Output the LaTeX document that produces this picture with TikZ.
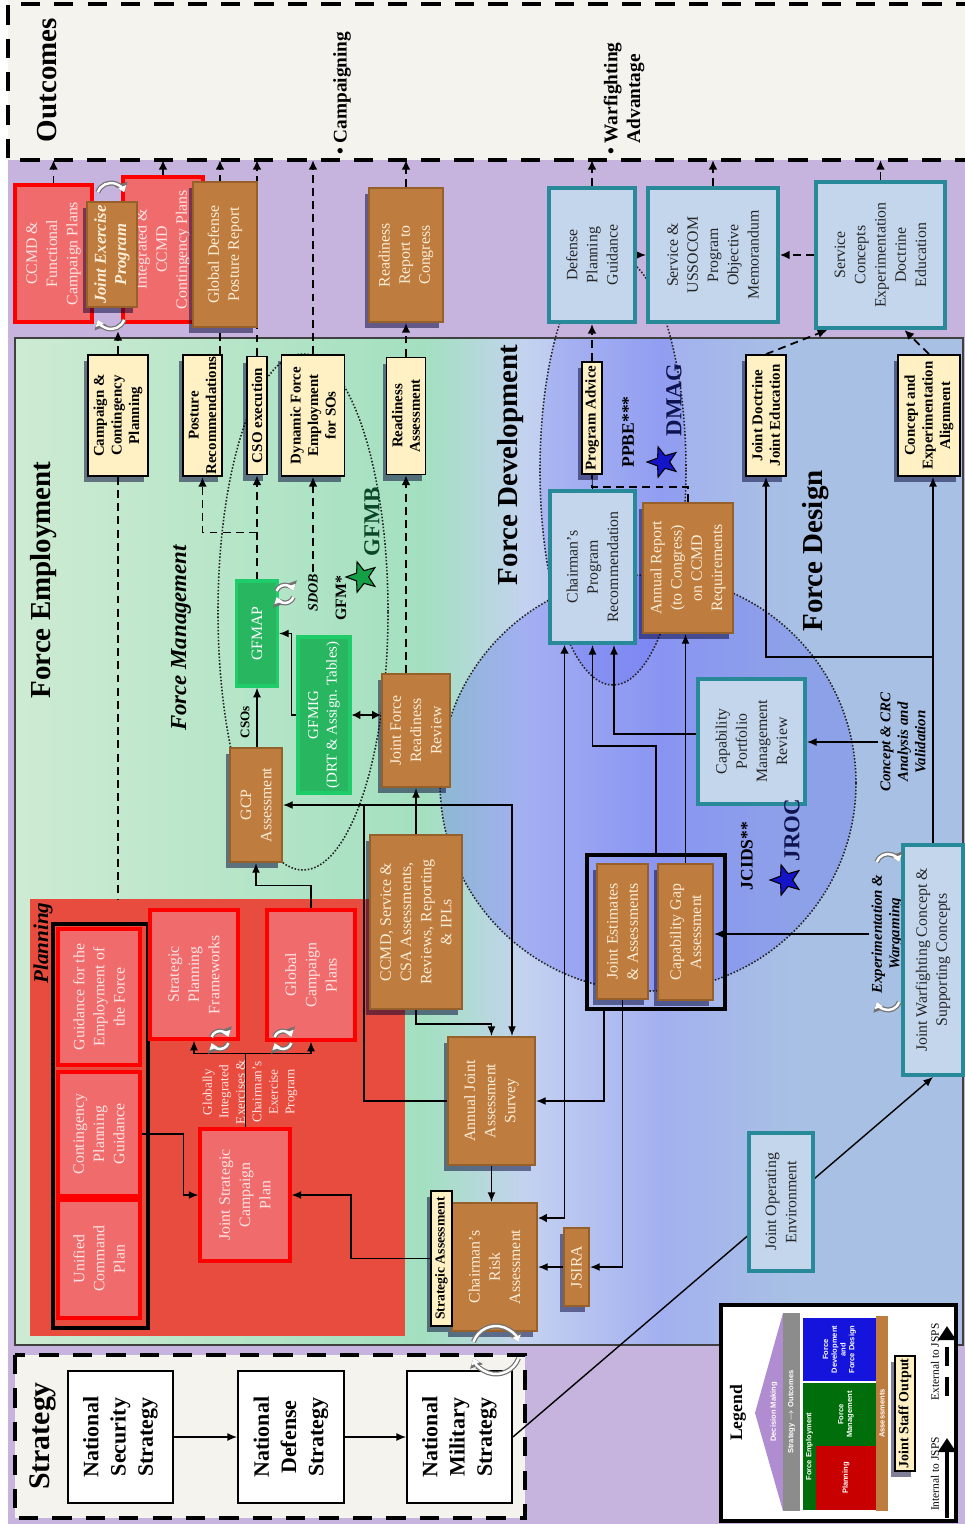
\documentclass[tikz,border=0pt]{standalone}
\usepackage{fontspec}
\setmainfont{Liberation Serif}
\setsansfont{Liberation Sans}
\usetikzlibrary{calc,arrows.meta,shapes.geometric,shadows}

\definecolor{bgpurple}{RGB}{198,180,222}
\definecolor{outbeige}{RGB}{244,243,237}
\definecolor{fegreenA}{RGB}{205,235,210}
\definecolor{fegreenB}{RGB}{163,224,192}
\definecolor{fdlight}{RGB}{196,210,240}
\definecolor{fdperi}{RGB}{163,176,240}
\definecolor{fdsteel}{RGB}{168,192,228}
\definecolor{plred}{RGB}{232,76,62}
\definecolor{plbox}{RGB}{240,108,108}
\definecolor{plboxtxt}{RGB}{255,228,228}
\definecolor{asbrown}{RGB}{190,124,62}
\definecolor{asbrowndk}{RGB}{150,96,42}
\definecolor{ascream}{RGB}{252,238,215}
\definecolor{fdbox}{RGB}{196,214,236}
\definecolor{fdteal}{RGB}{40,138,152}
\definecolor{jsyellow}{RGB}{255,241,196}
\definecolor{fmgreen}{RGB}{40,182,96}
\definecolor{fmgreenlt}{RGB}{30,205,105}
\definecolor{starblue}{RGB}{20,20,200}
\definecolor{stargreen}{RGB}{20,160,70}
\definecolor{navytxt}{RGB}{15,20,80}
\definecolor{gfmbtxt}{RGB}{10,70,40}
\definecolor{legroof}{RGB}{176,140,208}
\definecolor{legfe}{RGB}{0,110,10}
\definecolor{legpl}{RGB}{200,0,0}
\definecolor{legfd}{RGB}{20,20,220}

\pgfdeclarelayer{back}
\pgfdeclarelayer{mid}
\pgfsetlayers{back,mid,main}

\tikzset{
  lbl/.style={rotate=90, align=center, inner sep=1pt},
  wh/.style 2 args={minimum height=#1*0.2mm, minimum width=#2*0.2mm},
  boxfont/.style={font=\fontsize{9}{11.5}\selectfont},
  shd/.style={drop shadow={shadow xshift=-2pt, shadow yshift=-3.5pt, opacity=0.5, fill=black!80!blue}},
  redbox/.style={lbl, boxfont, fill=plbox, draw=red, line width=1.8pt, text=plboxtxt},
  brownbox/.style={lbl, boxfont, fill=asbrown, draw=asbrowndk, line width=1.2pt, text=ascream, shd},
  bluebox/.style={lbl, boxfont, fill=fdbox, draw=fdteal, line width=2.2pt, text=black!85},
  yelbox/.style={lbl, font=\fontsize{8.5}{10}\selectfont\bfseries, fill=jsyellow, draw=black, line width=1pt, shd},
  grnbox/.style={lbl, boxfont, fill=fmgreen, draw=fmgreenlt, line width=1.8pt, text=white},
  stratbox/.style={lbl, font=\fontsize{12.5}{15.5}\selectfont\bfseries, fill=white, draw=black, line width=1pt},
  head/.style={lbl, font=\fontsize{16.5}{19}\selectfont\bfseries},
  tag/.style={lbl, font=\fontsize{10}{12}\selectfont\bfseries},
  note/.style={lbl, font=\fontsize{8.5}{10}\selectfont\bfseries\itshape},
  legtxt/.style={lbl, text=white, font=\fontsize{4.3}{5}\selectfont\sffamily\bfseries},
  starnode/.style={star, star points=5, star point ratio=2.4, rotate=90, draw=black, line width=0.6pt, inner sep=0pt, minimum size=32*0.2mm},
  arr/.style={line width=0.8pt, -{Latex[length=5.5pt,width=4.5pt]}},
  dline/.style={line width=1pt, dash pattern=on 4.5pt off 3pt},
  darr/.style={dline, -{Latex[length=5.5pt,width=5pt]}},
  dbl/.style={line width=0.8pt, {Latex[length=5pt,width=5pt]}-{Latex[length=5pt,width=5pt]}},
  dots/.style={line width=0.9pt, dash pattern=on 0.9pt off 1pt, black!85},
  bigdash/.style={line width=2.3pt, dash pattern=on 11pt off 8pt},
  cycout/.style={line width=2.8pt, draw=black!55, -{Triangle[length=5pt,width=7.5pt]}},
  cycin/.style={line width=1.4pt, draw=white, -{Triangle[length=3.4pt,width=4.8pt]}},
}

\def\cycarc(#1,#2)(#3:#4:#5){%
  \draw[cycout] ($(#1,#2)+({#5*cos(#3)},{#5*sin(#3)})$) arc (#3:#4:#5);
  \draw[cycin] ($(#1,#2)+({#5*cos(#3)},{#5*sin(#3)})$) arc (#3:#4:#5);}

\begin{document}
\begin{tikzpicture}[x=0.2mm,y=-0.2mm]
%%%%% START %%%%%
\useasboundingbox (0,0) rectangle (965,1524);

\begin{pgfonlayer}{back}
  \fill[white] (0,0) rectangle (965,1524);
  \fill[bgpurple] (8,0) rectangle (965,1524);
  \fill[outbeige] (8,0) rectangle (965,160);

  \shade[left color=fegreenA, right color=fegreenB] (15,338) rectangle (426,1345);
  \shade[left color=fegreenB, right color=fdlight] (425,338) rectangle (526,1345);
  \shade[left color=fdlight, right color=fdperi] (525,338) rectangle (661,1345);
  \shade[left color=fdperi, right color=fdsteel] (660,338) rectangle (791,1345);
  \fill[fdsteel] (790,338) rectangle (963,1345);
  \begin{scope}
    \clip (15,338) rectangle (963,1345);
    \fill[blue!70!fdperi, opacity=0.22] (648,783) circle (208);
    \fill[blue!70!fdperi, opacity=0.15] (613,470) ellipse (73 and 215);
  \end{scope}
  \draw[black!75, line width=0.8pt] (15,338) rectangle (963,1345);

  \fill[plred] (30,899) rectangle (405,1336);

  \fill[outbeige] (15,1355) rectangle (525,1518);
  \draw[bigdash] (15,1355) rectangle (525,1518);
  \draw[bigdash] (975,4) -- (8,4) -- (8,160) -- (975,160);
\end{pgfonlayer}

\coordinate (outl) at (0,160);
\coordinate (px1) at (220,160);
\coordinate (jepbot) at (0,331);
\coordinate (plantop) at (0,899);

% headings
\node[head] (outhd) at (47,80) {Outcomes};
\node[lbl, anchor=west, font=\fontsize{11}{13}\selectfont\bfseries] (camp) at (342,157) {\textbullet\ Campaigning};
\node[lbl, anchor=west, align=left, font=\fontsize{11}{13}\selectfont\bfseries] (warf) at (624,157) {\textbullet\ Warfighting\\\phantom{\textbullet\ }Advantage};
\node[head] (fehd) at (44,580) {Force Employment};
\node[lbl, font=\fontsize{13}{15}\selectfont\bfseries\itshape] (fmhd) at (181,638) {Force Management};
\node[head] (fdvhd) at (511,465) {Force Development};
\node[head] (fdshd) at (816,551) {Force Design};
\node[lbl, font=\fontsize{12}{14}\selectfont\bfseries\itshape] (planhd) at (43,943) {Planning};
\node[head, font=\fontsize{17}{19}\selectfont\bfseries] (strhd) at (43,1436) {Strategy};

% outputs row
\node[redbox, wh={77}{137}] (ccmdcp) at (53.5,253.5) {CCMD \&\\Functional\\Campaign Plans};
\node[redbox, wh={80}{145}] (intcp) at (163,249.5) {Integrated \&\\CCMD\\Contingency Plans};
\node[brownbox, wh={50}{105}, font=\fontsize{9.5}{11.5}\selectfont\bfseries\itshape] (jep) at (112,254.5) {Joint Exercise\\Program};
\node[brownbox, wh={64}{145}] (gdpr) at (225,254.5) {Global Defense\\Posture Report};
\node[brownbox, wh={74}{134}] (rrc) at (406,255) {Readiness\\Report to\\Congress};
\node[bluebox, wh={86}{134}] (dpg) at (592,255) {Defense\\Planning\\Guidance};
\node[bluebox, wh={130}{134}] (pom) at (713,255) {Service \&\\USSOCOM\\Program\\Objective\\Memorandum};
\node[bluebox, wh={129}{146}] (svcc) at (880.5,255) {Service\\Concepts\\Experimentation\\Doctrine\\Education};
\cycarc(111,197)(200:340:14)
\cycarc(111,315)(20:160:14)

% joint staff outputs
\node[yelbox, wh={60}{121}] (ccp) at (118,415.5) {Campaign \&\\Contingency\\Planning};
\node[yelbox, wh={39}{121}] (postrec) at (202.5,415.5) {Posture\\Recommendations};
\node[yelbox, wh={20}{118}] (csoexe) at (257,415.5) {CSO execution};
\node[yelbox, wh={63}{121}] (dfe) at (313,415.5) {Dynamic Force\\Employment\\for SOs};
\node[yelbox, wh={39}{117}] (readass) at (406,416) {Readiness\\Assessment};
\node[yelbox, wh={20}{112}] (progadv) at (592,418) {Program Advice};
\node[yelbox, wh={40}{121}] (jdje) at (766,415.5) {Joint Doctrine\\Joint Education};
\node[yelbox, wh={62}{121}] (cea) at (929,415.5) {Concept and\\Experimentation\\Alignment};

% force management
\node[grnbox, wh={41}{105}] (gfmap) at (257,633.5) {GFMAP};
\node[grnbox, wh={52}{156}, font=\fontsize{8.5}{10.5}\selectfont] (gfmig) at (324,715) {GFMIG\\(DRT \& Assign. Tables)};
\node[brownbox, wh={52}{114}] (gcp) at (256,805) {GCP\\Assessment};
\node[brownbox, wh={68}{113}] (jfrr) at (416,730.5) {Joint Force\\Readiness\\Review};
\node[brownbox, wh={92}{174}] (ccmdipl) at (416,922) {CCMD, Service \&\\CSA Assessments,\\Reviews, Reporting\\\& IPLs};
\node[lbl, font=\fontsize{7.5}{9}\selectfont\bfseries] (csos) at (245,722) {CSOs};
\node[lbl, font=\fontsize{8}{9}\selectfont\bfseries\itshape] (sdob) at (313,593) {SDOB};
\node[tag, font=\fontsize{9}{10}\selectfont\bfseries] (gfmlbl) at (341,598) {GFM*};
\node[starnode, fill=stargreen] (gfmbstar) at (362,577) {};
\node[lbl, text=gfmbtxt, font=\fontsize{13}{15}\selectfont\bfseries] (gfmb) at (372,522) {GFMB};
\cycarc(285,594)(200:340:9)
\cycarc(285,594)(20:160:9)

% planning
\draw[line width=2pt] (53,924) rectangle (148,1328);
\node[redbox, wh={82}{136}] (gef) at (99,997) {Guidance for the\\Employment of\\the Force};
\node[redbox, wh={82}{124}] (cpg) at (99,1134) {Contingency\\Planning\\Guidance};
\node[redbox, wh={82}{118}] (ucp) at (99,1259) {Unified\\Command\\Plan};
\node[redbox, wh={88}{129}] (spf) at (194,974.5) {Strategic\\Planning\\Frameworks};
\node[redbox, wh={88}{130}] (gcplans) at (311,975) {Global\\Campaign\\Plans};
\node[redbox, wh={90}{132}] (jscp) at (245,1195) {Joint Strategic\\Campaign\\Plan};
\node[lbl, text=plboxtxt, font=\fontsize{7.5}{9.4}\selectfont] (gie) at (250,1092) {Globally\\Integrated\\Exercises \&\\Chairman's\\Exercise\\Program};
\cycarc(220,1040)(200:340:9)
\cycarc(220,1040)(20:160:9)
\cycarc(283,1040)(200:340:9)
\cycarc(283,1040)(20:160:9)

% assessments
\node[brownbox, wh={87}{128}] (ajas) at (491.5,1101) {Annual Joint\\Assessment\\Survey};
\node[brownbox, wh={85}{128}] (cra) at (494.5,1267) {Chairman's\\Risk\\Assessment};
\node[yelbox, wh={21}{135}, font=\fontsize{7.8}{9}\selectfont\bfseries] (stratass) at (441.5,1258.5) {Strategic Assessment};
\node[brownbox, wh={25}{78}] (jsira) at (576.5,1267) {JSIRA};

% force development and design
\node[bluebox, wh={85}{152}] (cpr) at (592.5,567) {Chairman's\\Program\\Recommendation};
\node[brownbox, wh={90}{130}] (annrep) at (688,568) {Annual Report\\(to Congress)\\on CCMD\\Requirements};
\node[tag] (ppbe) at (628,432) {PPBE***};
\node[starnode, fill=starblue] (dmagstar) at (663,462) {};
\node[lbl, text=navytxt, font=\fontsize{13}{15}\selectfont\bfseries] (dmag) at (674,400) {DMAG};
\node[bluebox, wh={107}{125}] (cpmr) at (751.5,741.5) {Capability\\Portfolio\\Management\\Review};
\node[lbl, draw, line width=2.4pt, wh={138}{154}] (jeframe) at (656,932) {};
\node[brownbox, wh={51}{135}] (jea) at (622.5,931.5) {Joint Estimates\\\& Assessments};
\node[brownbox, wh={55}{136}] (cga) at (685.5,932) {Capability Gap\\Assessment};
\node[tag] (jcids) at (747,856) {JCIDS**};
\node[starnode, fill=starblue] (jrocstar) at (786,880) {};
\node[lbl, text=navytxt, font=\fontsize{13}{15}\selectfont\bfseries] (jroc) at (792,830) {JROC};
\node[note] (crclbl) at (903,742) {Concept \& CRC\\Analysis and\\Validation};
\node[note] (explbl) at (887,934) {Experimentation \&\\Wargaming};
\node[bluebox, wh={60}{230}] (jwc) at (933,960) {Joint Warfighting Concept \&\\Supporting Concepts};
\node[bluebox, wh={64}{138}] (joe) at (781,1202) {Joint Operating\\Environment};
\cycarc(888,866)(200:340:12)
\cycarc(888,998)(20:160:12)

% strategy
\node[stratbox, wh={105}{132}] (nss) at (120.5,1437) {National\\Security\\Strategy};
\node[stratbox, wh={106}{132}] (nds) at (291,1437) {National\\Defense\\Strategy};
\node[stratbox, wh={105}{132}] (nms) at (459.5,1437) {National\\Military\\Strategy};
\cycarc(496,1350)(200:340:24)
\cycarc(496,1350)(20:160:24)

% legend
\draw[line width=1.8pt, fill=white] (721,1305) rectangle (956,1521);
\node[lbl, font=\fontsize{10}{12}\selectfont\bfseries] (leghd) at (738,1413) {Legend};
\fill[legroof] (755,1413) -- (783,1313) -- (783,1511) -- cycle;
\node[legtxt] (legdm) at (774,1412) {Decision Making};
\node[legtxt, fill=black!45, wh={17}{198}] (legso) at (791.5,1412) {Strategy $\rightarrow$ Outcomes};
\node[legtxt, fill=legfe, wh={13}{127}] (legfe) at (809.5,1446.5) {Force Employment};
\node[legtxt, fill=legfe, wh={60}{63}] (legfm) at (846,1414.5) {Force\\Management};
\node[legtxt, fill=legpl, wh={60}{64}] (legpl) at (846,1478) {Planning};
\node[legtxt, fill=legfd, wh={73}{63}] (legfd) at (839.5,1349.5) {Force\\Development\\and\\Force Design};
\node[legtxt, fill=asbrown, wh={12}{195}] (legas) at (882,1413.5) {Assessments};
\node[yelbox, wh={20}{115}, font=\fontsize{8}{9}\selectfont\bfseries] (legjs) at (905,1413.5) {Joint Staff Output};
\node[lbl, font=\fontsize{6.5}{7.5}\selectfont] (legint) at (935,1474) {Internal to JSPS};
\node[lbl, font=\fontsize{6.5}{7.5}\selectfont] (legext) at (935,1362) {External to JSPS};
\coordinate (intb) at (947,1518);
\coordinate (intt) at (947,1438);
\coordinate (extb) at (947,1396);
\coordinate (extt) at (947,1326);
\draw[line width=2.6pt, -{Triangle[length=8pt,width=10pt]}] (intb) -- (intt);
\draw[line width=2.6pt, dash pattern=on 11pt off 6pt, -{Triangle[length=8pt,width=10pt]}] (extb) -- (extt);

\begin{pgfonlayer}{mid}
  \draw[dots] (303,612) ellipse (85 and 258);
  \draw[dots] (648,783) circle (208);
  \draw[dots] (613,470) ellipse (73 and 215);

  \draw[darr] (ccmdcp.east) -- (ccmdcp.east |- outl);
  \draw[darr] (intcp.east) -- (intcp.east |- outl);
  \draw[darr] (px1 |- postrec.east) -- (px1);
  \draw[darr] (csoexe.east) -- (csoexe.east |- outl);
  \draw[darr] (dfe.east) -- (dfe.east |- outl);
  \draw[darr] (rrc.east) -- (rrc.east |- outl);
  \draw[darr] (dpg.east) -- (dpg.east |- outl);
  \draw[darr] (pom.east) -- (pom.east |- outl);
  \draw[darr] (svcc.east) -- (svcc.east |- outl);
  \draw[darr] (svcc.north) -- (pom.south);
  \draw[arr] (dpg.south) -- (pom.north);
  \draw[darr] (jdje.east) -- ($(svcc.north west)!0.1!(svcc.south west)$);
  \draw[darr] (cea.east) -- ($(svcc.north west)!0.68!(svcc.south west)$);
  \draw[darr] (ccp.east) -- (ccp.east |- jepbot);
  \draw[dline] (ccp.west) -- (ccp.west |- plantop);
  \draw[darr] (readass.east) -- (rrc.west);
  \draw[darr] (progadv.east) -- (dpg.west);

  \draw[arr] (gfmap.west |- gcp.east) -- (gfmap.west);
  \draw[darr] (gfmap.east) -- (gfmap.east |- csoexe.west);
  \draw[darr] ($(gfmap.east)!0.45!(gfmap.east |- csoexe.west)$) -| (postrec.west);
  \draw[arr] (gfmig.north) -- ++(-5,0) |- (gfmap.south);
  \draw[darr] (sdob.east) -- (sdob.east |- dfe.west);
  \draw[dbl] (gfmig.south) -- (gfmig.south -| jfrr.north);
  \draw[darr] (jfrr.east -| readass.west) -- (readass.west);
  \draw[arr] (ccmdipl.east) -- (ccmdipl.east |- jfrr.west);
  \draw[arr] (ccmdipl.west) -- ++(0,14) -| (ajas.east);
  \coordinate (jn) at (364,805);
  \draw[arr] (ajas.north) -| (jn) -- (gcp.south);
  \draw[arr] (jn) -| ([xshift=4.1mm]ajas.east);
  \draw[arr] (ajas.west) -- (ajas.west |- cra.east);

  \draw[arr] (cpg.south) -- ++(42,0) |- (jscp.north);
  \draw (jscp.east) -- ++(0,-74) coordinate (gsplit);
  \draw[arr] (gsplit) -| (spf.west);
  \draw[arr] (gsplit) -| (gcplans.west);
  \draw[arr] (gcplans.east) -- ++(0,-23) -| (gcp.west);
  \draw[arr] (stratass.north) -- ++(-79,0) |- (jscp.south);

  \draw[arr] (jsira.north) -- (cra.south);
  \draw[arr] (jea.west) |- (jsira.south);
  \draw[arr] ([xshift=-10.4mm]jeframe.west) |- (ajas.south);
  \draw[dbl] ([yshift=9.8mm]cra.south) -| ([xshift=-5.6mm]cpr.west);
  \draw[arr] ([yshift=1.5mm]cpmr.north) -| ([xshift=4.3mm]cpr.west);
  \draw[arr] (jeframe.east) -- ++(0,-107) -| (cpr.west);
  \draw[arr] (cga.east) -- (cga.east |- annrep.west);
  \draw[dline] (annrep.east) -- ++(0,-15) -| (progadv.west);
  \draw (cpr.east) -- (progadv.west);

  \draw[arr] (jwc.east) -- ++(0,-186) -| (jdje.west);
  \draw[arr] (jwc.east) -- (jwc.east |- cea.west);
  \draw[arr] (crclbl.north) -- (crclbl.north -| cpmr.south);
  \draw[arr] (explbl.north) -- (explbl.north -| cga.south);

  \draw[arr] (nss.south) -- (nds.north);
  \draw[arr] (nds.south) -- (nms.north);
  \draw[arr] (nms.south) -- (jwc.west);
\end{pgfonlayer}
%%%%% END %%%%%
\end{tikzpicture}
\end{document}
